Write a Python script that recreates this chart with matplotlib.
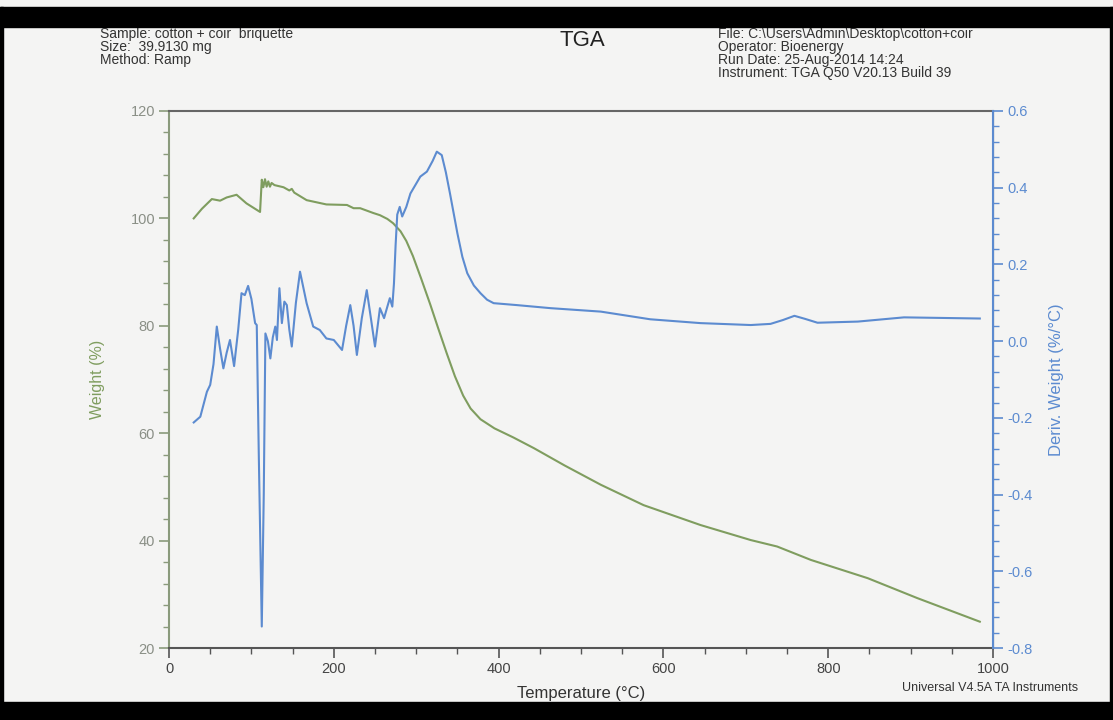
import numpy as np
import matplotlib.pyplot as plt
from matplotlib.patches import Rectangle
from matplotlib.ticker import MultipleLocator

plt.rcParams["font.family"] = ["Liberation Sans", "DejaVu Sans"]

# weight curve (TGA)
temp_w = [30, 40, 52, 62, 70, 82, 94, 110.5, 112.6, 114.5, 116.5, 118.5, 120.5,
          122.5, 124.5, 128, 139, 146, 149, 152, 167, 191, 216, 224, 232, 248,
          256, 265, 272, 281, 288, 296, 306, 317, 327, 337, 347, 357, 366, 378,
          395, 418, 443, 480, 524, 576, 645, 706, 738, 779, 848, 908, 984]
weight = [100.0, 101.8, 103.6, 103.3, 103.9, 104.4, 102.8, 101.2, 107.2, 105.8,
          107.3, 105.9, 106.9, 105.9, 106.6, 106.2, 105.8, 105.2, 105.5, 104.8,
          103.4, 102.6, 102.5, 101.9, 101.9, 101.0, 100.6, 99.9, 99.1, 97.6,
          95.8, 93.0, 88.8, 84.0, 79.4, 74.9, 70.6, 67.0, 64.6, 62.6, 60.9,
          59.2, 57.2, 54.0, 50.4, 46.6, 42.9, 40.1, 38.9, 36.4, 33.0, 29.3, 24.9]

# derivative curve (DTG)
temp_d = [30, 38, 46, 50, 54, 58, 62, 66, 70, 74, 79, 84, 88, 92, 96, 100, 104.5,
          106.5, 109, 112.6, 115, 117, 120, 123, 126, 129, 131, 134, 137, 140,
          143, 146, 149, 154, 159, 163, 167, 175, 183, 191, 200, 205, 210, 215,
          220, 224, 228, 234, 240, 245, 250, 256, 261, 265, 268, 271, 273, 275,
          277, 280, 283, 288, 293, 305, 313, 320, 325, 331, 336, 341, 350, 356,
          362, 370, 378, 386, 394, 422, 463, 524, 584, 645, 706, 730, 745, 759,
          772, 787, 836, 892, 984]
deriv = [-0.212, -0.197, -0.132, -0.114, -0.06, 0.038, -0.02, -0.071, -0.03,
         0.003, -0.065, 0.03, 0.125, 0.12, 0.144, 0.11, 0.047, 0.042, -0.3,
         -0.744, -0.4, 0.02, 0.0, -0.045, 0.01, 0.038, 0.003, 0.138, 0.047,
         0.103, 0.094, 0.03, -0.014, 0.10, 0.181, 0.14, 0.099, 0.038, 0.029,
         0.007, 0.003, -0.01, -0.023, 0.04, 0.094, 0.04, -0.036, 0.06, 0.133,
         0.06, -0.014, 0.086, 0.06, 0.09, 0.112, 0.09, 0.15, 0.25, 0.33, 0.35,
         0.325, 0.35, 0.385, 0.429, 0.442, 0.47, 0.494, 0.485, 0.44, 0.385,
         0.281, 0.22, 0.177, 0.145, 0.125, 0.108, 0.099, 0.094, 0.086, 0.077,
         0.057, 0.047, 0.042, 0.045, 0.055, 0.066, 0.058, 0.048, 0.051, 0.062,
         0.059]

green = "#7f9d5f"
blue = "#5c8bd0"

fig = plt.figure(figsize=(11.13, 7.2), dpi=100)
fig.patch.set_facecolor("#f4f4f3")

ax = fig.add_axes([169 / 1113, 1 - 648 / 720, 824 / 1113, 537 / 720])
ax.set_facecolor("#f4f4f3")
ax.plot(temp_w, weight, color=green, lw=1.5, zorder=3)
ax.set_xlim(0, 1000)
ax.set_ylim(20, 120)
ax.xaxis.set_major_locator(MultipleLocator(200))
ax.xaxis.set_minor_locator(MultipleLocator(50))
ax.yaxis.set_major_locator(MultipleLocator(20))
ax.yaxis.set_minor_locator(MultipleLocator(4))
ax.tick_params(axis="x", which="major", length=7, width=1.2, color="#555555",
               labelsize=10.5, labelcolor="#444444", pad=3)
ax.tick_params(axis="x", which="minor", length=4, width=1.0, color="#555555")
ax.tick_params(axis="y", which="major", length=7, width=1.2, color="#8a9a7c",
               labelsize=10.5, labelcolor="#8a8f86", pad=3)
ax.tick_params(axis="y", which="minor", length=4, width=1.0, color="#8a9a7c")
ax.spines["left"].set_color("#8a9a7c")
ax.spines["left"].set_linewidth(1.5)
ax.spines["bottom"].set_color("#555555")
ax.spines["bottom"].set_linewidth(1.5)
ax.spines["top"].set_color("#666666")
ax.spines["top"].set_linewidth(1.5)
ax.set_xlabel("Temperature (°C)", fontsize=12, color="#333333", labelpad=7)
ax.set_ylabel("Weight (%)", fontsize=11.5, color=green, labelpad=18)

ax2 = ax.twinx()
ax2.plot(temp_d, deriv, color=blue, lw=1.5, zorder=3)
ax2.set_ylim(-0.8, 0.6)
ax2.yaxis.set_major_locator(MultipleLocator(0.2))
ax2.yaxis.set_minor_locator(MultipleLocator(0.04))
ax2.yaxis.set_major_formatter(plt.FuncFormatter(lambda v, p: f"{v:.1f}"))
ax2.tick_params(axis="y", which="major", length=7, width=1.2, color=blue,
                labelsize=10.5, labelcolor=blue, pad=3)
ax2.tick_params(axis="y", which="minor", length=4, width=1.0, color=blue)
ax2.spines["right"].set_color(blue)
ax2.spines["right"].set_linewidth(1.5)
for s in ["left", "top", "bottom"]:
    ax2.spines[s].set_visible(False)
ax2.set_ylabel("Deriv. Weight (%/°C)", fontsize=12, color=blue, labelpad=12)

# header text
fs = 10
hdr_left = ["Sample: cotton + coir  briquette", "Size:  39.9130 mg", "Method: Ramp"]
hdr_right = ["File: C:\\Users\\Admin\\Desktop\\cotton+coir", "Operator: Bioenergy",
             "Run Date: 25-Aug-2014 14:24", "Instrument: TGA Q50 V20.13 Build 39"]
for i, s in enumerate(hdr_left):
    fig.text(100 / 1113, 1 - (34 + 13 * i) / 720, s, fontsize=fs, color="#333333",
             va="center", ha="left")
for i, s in enumerate(hdr_right):
    fig.text(718 / 1113, 1 - (34 + 13 * i) / 720, s, fontsize=fs, color="#333333",
             va="center", ha="left")
fig.text(582 / 1113, 1 - 41 / 720, "TGA", fontsize=16, color="#222222",
         va="center", ha="center")
fig.text(990 / 1113, 1 - 688 / 720, "Universal V4.5A TA Instruments", fontsize=9,
         color="#333333", va="center", ha="center")

# scan borders
fig.patches.append(Rectangle((0, 1 - 27 / 720), 1, 20 / 720, transform=fig.transFigure,
                             color="black", zorder=10))
fig.patches.append(Rectangle((0, 0), 1, 18 / 720, transform=fig.transFigure,
                             color="black", zorder=10))
fig.patches.append(Rectangle((0, 0), 3 / 1113, 1 - 7 / 720, transform=fig.transFigure,
                             color="black", zorder=10))
fig.patches.append(Rectangle((1 - 3 / 1113, 0), 3 / 1113, 1 - 7 / 720,
                             transform=fig.transFigure, color="black", zorder=10))

fig.savefig("out.png", dpi=100, facecolor=fig.get_facecolor())
